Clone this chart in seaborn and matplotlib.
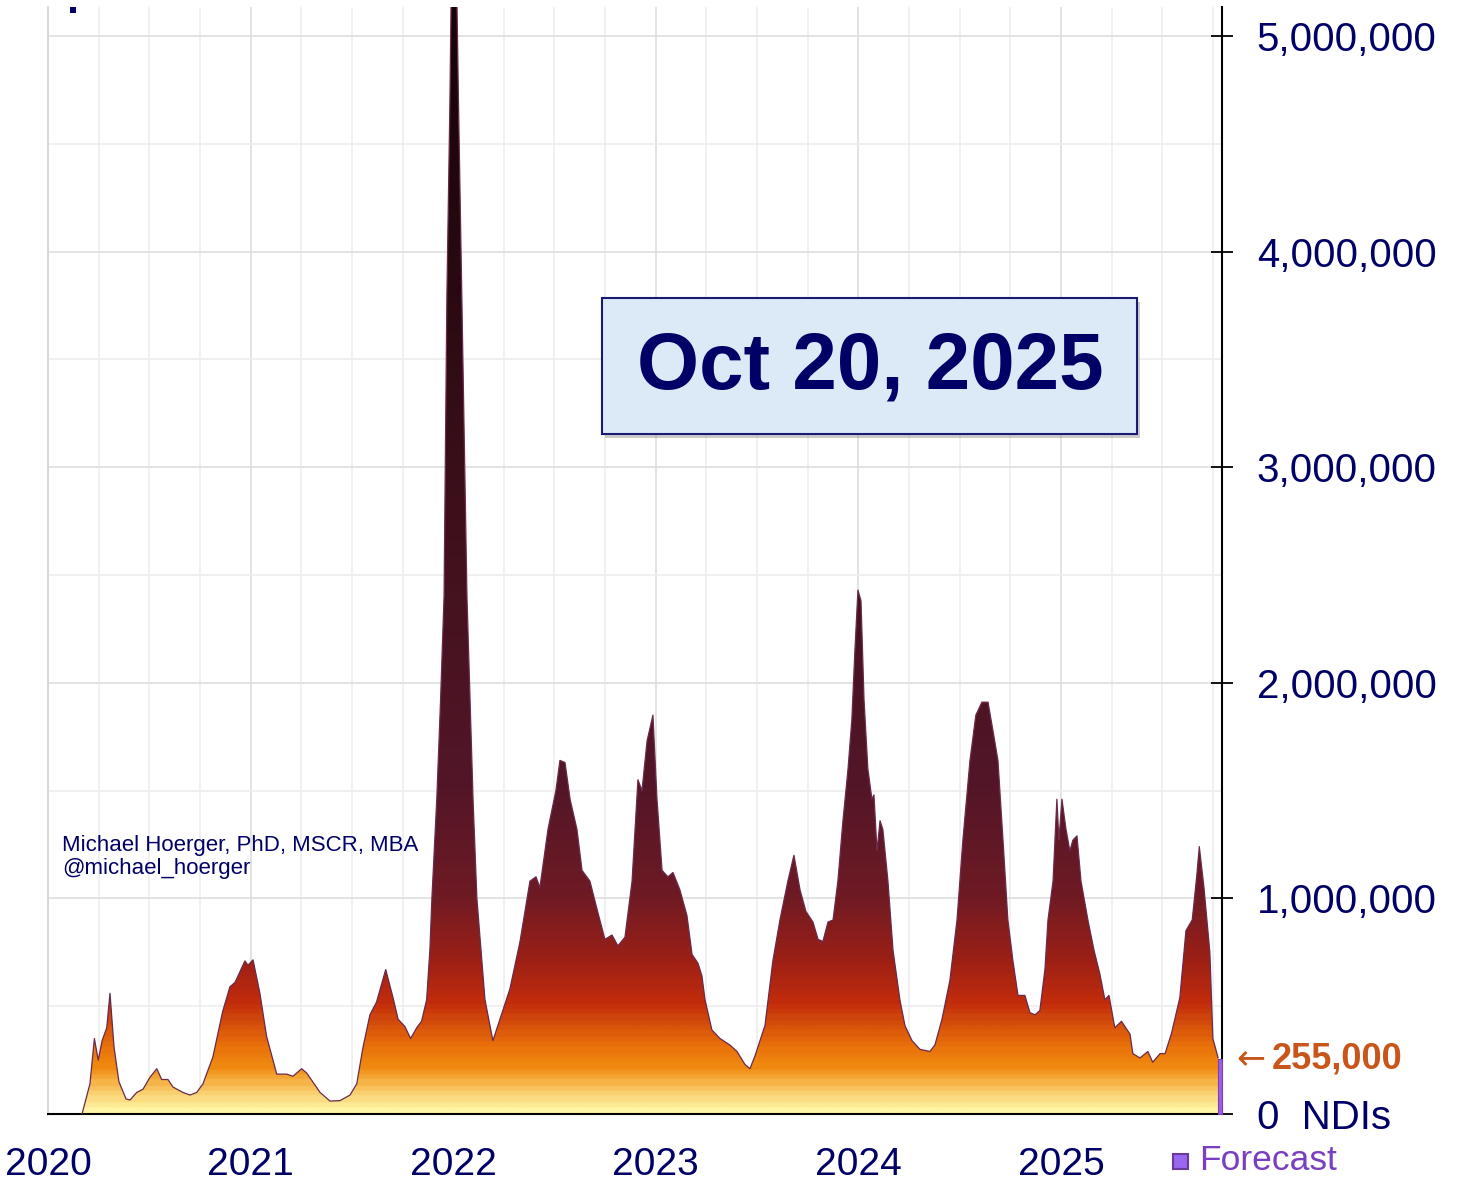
import numpy as np
import pandas as pd
import matplotlib
matplotlib.use("Agg")
import matplotlib.pyplot as plt
import seaborn as sns
from matplotlib.colors import LinearSegmentedColormap
from matplotlib.patches import Rectangle, Polygon
from matplotlib.ticker import MultipleLocator, FixedLocator

# Estimated daily new infections (NDIs)
years = [
    2020.168, 2020.207, 2020.229, 2020.248, 2020.267, 2020.290, 2020.306, 2020.326,
    2020.350, 2020.385, 2020.405, 2020.438, 2020.469, 2020.503, 2020.537, 2020.561,
    2020.592, 2020.617, 2020.666, 2020.701, 2020.734, 2020.765, 2020.814, 2020.862,
    2020.898, 2020.923, 2020.972, 2020.987, 2021.012, 2021.046, 2021.079, 2021.129,
    2021.178, 2021.209, 2021.252, 2021.277, 2021.343, 2021.392, 2021.441, 2021.491,
    2021.524, 2021.555, 2021.589, 2021.622, 2021.667, 2021.703, 2021.728, 2021.762,
    2021.790, 2021.820, 2021.844, 2021.869, 2021.885, 2021.895, 2021.919, 2021.937,
    2021.955, 2021.969, 2021.984, 2022.004, 2022.019, 2022.026, 2022.043, 2022.068,
    2022.098, 2022.117, 2022.157, 2022.196, 2022.280, 2022.330, 2022.379, 2022.409,
    2022.428, 2022.468, 2022.507, 2022.527, 2022.552, 2022.577, 2022.611, 2022.636,
    2022.675, 2022.710, 2022.749, 2022.784, 2022.813, 2022.848, 2022.883, 2022.912,
    2022.932, 2022.957, 2022.986, 2023.006, 2023.031, 2023.060, 2023.085, 2023.119,
    2023.154, 2023.179, 2023.208, 2023.228, 2023.243, 2023.277, 2023.317, 2023.366,
    2023.401, 2023.440, 2023.465, 2023.490, 2023.539, 2023.578, 2023.613, 2023.652,
    2023.682, 2023.712, 2023.741, 2023.776, 2023.801, 2023.825, 2023.850, 2023.875,
    2023.899, 2023.924, 2023.949, 2023.968, 2023.983, 2023.998, 2024.013, 2024.028,
    2024.047, 2024.067, 2024.077, 2024.092, 2024.107, 2024.121, 2024.146, 2024.171,
    2024.205, 2024.230, 2024.265, 2024.304, 2024.353, 2024.378, 2024.413, 2024.452,
    2024.487, 2024.516, 2024.551, 2024.580, 2024.610, 2024.640, 2024.664, 2024.689,
    2024.714, 2024.738, 2024.763, 2024.788, 2024.822, 2024.847, 2024.872, 2024.896,
    2024.921, 2024.936, 2024.961, 2024.980, 2024.990, 2025.005, 2025.025, 2025.044,
    2025.059, 2025.079, 2025.099, 2025.133, 2025.163, 2025.192, 2025.217, 2025.237,
    2025.266, 2025.299, 2025.341, 2025.355, 2025.390, 2025.429, 2025.453, 2025.489,
    2025.514, 2025.546, 2025.587, 2025.617, 2025.648, 2025.670, 2025.683, 2025.706,
    2025.735, 2025.750, 2025.776,
]
ndis_m = [
    0.00, 0.14, 0.35, 0.25, 0.34, 0.40, 0.56, 0.31,
    0.15, 0.07, 0.065, 0.10, 0.115, 0.17, 0.21, 0.16,
    0.16, 0.125, 0.10, 0.088, 0.10, 0.14, 0.265, 0.475,
    0.59, 0.61, 0.71, 0.69, 0.715, 0.56, 0.36, 0.185,
    0.185, 0.175, 0.21, 0.19, 0.10, 0.06, 0.062, 0.088,
    0.14, 0.31, 0.46, 0.52, 0.67, 0.54, 0.44, 0.405,
    0.35, 0.40, 0.43, 0.53, 0.76, 1.00, 1.46, 1.90,
    2.40, 3.80, 4.70, 6.30, 5.13, 4.70, 3.78, 2.40,
    1.46, 1.00, 0.53, 0.34, 0.58, 0.80, 1.08, 1.10,
    1.05, 1.32, 1.50, 1.64, 1.63, 1.46, 1.32, 1.13,
    1.08, 0.95, 0.81, 0.83, 0.78, 0.82, 1.08, 1.55,
    1.50, 1.73, 1.85, 1.46, 1.13, 1.10, 1.12, 1.04,
    0.92, 0.74, 0.70, 0.64, 0.53, 0.39, 0.35, 0.32,
    0.29, 0.23, 0.21, 0.27, 0.41, 0.71, 0.90, 1.08,
    1.20, 1.04, 0.94, 0.89, 0.81, 0.80, 0.89, 0.90,
    1.08, 1.36, 1.60, 1.83, 2.15, 2.43, 2.38, 1.92,
    1.60, 1.46, 1.48, 1.22, 1.36, 1.32, 1.08, 0.76,
    0.53, 0.41, 0.34, 0.30, 0.29, 0.32, 0.44, 0.62,
    0.90, 1.27, 1.64, 1.85, 1.91, 1.91, 1.78, 1.64,
    1.27, 0.90, 0.71, 0.55, 0.55, 0.47, 0.46, 0.48,
    0.67, 0.90, 1.08, 1.46, 1.27, 1.46, 1.32, 1.22,
    1.27, 1.29, 1.08, 0.90, 0.76, 0.65, 0.53, 0.55,
    0.40, 0.43, 0.37, 0.28, 0.26, 0.29, 0.24, 0.28,
    0.28, 0.375, 0.54, 0.85, 0.90, 1.10, 1.24, 1.05,
    0.75, 0.35, 0.26,
]
forecast_years = [2025.776, 2025.795]
forecast_value = 255000

year_ticks = [2020, 2021, 2022, 2023, 2024, 2025]
y_ticks = [0, 1000000, 2000000, 3000000, 4000000, 5000000]
y_labels = ["0  NDIs", "1,000,000", "2,000,000", "3,000,000", "4,000,000", "5,000,000"]
date_label = "Oct 20, 2025"
credit = "Michael Hoerger, PhD, MSCR, MBA\n@michael_hoerger"

df = pd.DataFrame({"year": years, "ndis": np.array(ndis_m) * 1e6})

NAVY = "#000066"
ORANGE = "#c8561a"
PURPLE = "#7a3fc0"

sns.set_style("white")
plt.rcParams["font.family"] = ["Liberation Sans", "DejaVu Sans"]

fig = plt.figure(figsize=(14.57, 11.81), dpi=100)
ax = fig.add_axes([48 / 1457, 1 - 1114 / 1181, (1222 - 48) / 1457, (1114 - 7) / 1181])

xmin, xmax = 2020, forecast_years[1]
ymax = 5.134e6

# gradient fill clipped to the area under the curve
stops = [(0.0, "#fff5a5"), (0.08, "#f9cf6e"), (0.2, "#f08a10"), (0.3, "#e8700a"),
         (0.5, "#c22c0c"), (0.7, "#9c2016"), (1.0, "#6e1a24"), (1.5, "#531628"),
         (2.4, "#45121f"), (3.8, "#2a0a12"), (5.0, "#160408"), (6.5, "#100306")]
cmap = LinearSegmentedColormap.from_list("ndi", [(v / 6.5, c) for v, c in stops])
grad = np.linspace(0, 1, 600).reshape(-1, 1)
im = ax.imshow(grad, cmap=cmap, origin="lower", aspect="auto",
               extent=[xmin, xmax, 0, 6.5e6], zorder=2)
verts = [(df.year.iloc[0], 0)] + list(zip(df.year, df.ndis)) + [(df.year.iloc[-1], 0)]
poly = Polygon(verts, closed=True, facecolor="none", edgecolor="none", transform=ax.transData)
ax.add_patch(poly)
im.set_clip_path(poly)

sns.lineplot(data=df, x="year", y="ndis", ax=ax, color="#6a2a4a", linewidth=0.9, zorder=3)

# forecast bar
ax.fill_between(forecast_years, 0, forecast_value, color="#9b5fe0", edgecolor=PURPLE,
                linewidth=0.8, zorder=3)

ax.set_xlim(xmin, xmax)
ax.set_ylim(0, ymax)
ax.set_xlabel("")
ax.set_ylabel("")

ax.xaxis.set_major_locator(FixedLocator(year_ticks))
ax.xaxis.set_minor_locator(MultipleLocator(0.25))
ax.set_xticks(year_ticks)
ax.set_xticklabels([str(y) for y in year_ticks], fontsize=28, color=NAVY)
ax.tick_params(axis="x", which="major", direction="inout", length=15, width=1.3,
               color="black", pad=16)
ax.tick_params(axis="x", which="minor", direction="in", length=7, width=1.3, color="black")

ax.yaxis.tick_right()
ax.set_yticks(y_ticks)
ax.set_yticklabels(y_labels, fontsize=29, color=NAVY)
ax.yaxis.set_minor_locator(MultipleLocator(500000))
ax.tick_params(axis="y", which="major", direction="inout", length=16, width=1.3,
               color="black", pad=17)
ax.tick_params(axis="y", which="minor", length=0)

ax.grid(which="major", color="#dedede", linewidth=1.2, zorder=0)
ax.grid(which="minor", color="#eeeeee", linewidth=1.2, zorder=0)
ax.set_axisbelow(True)

ax.spines["top"].set_visible(False)
ax.spines["left"].set_color("#d8d8d8")
ax.spines["left"].set_linewidth(1.5)
ax.spines["bottom"].set_color("black")
ax.spines["bottom"].set_linewidth(1.5)
ax.spines["right"].set_color("black")
ax.spines["right"].set_linewidth(1.5)

# latest estimate marker
ax.annotate("\u2190", xy=(xmax, forecast_value), xytext=(10, 1),
            textcoords="offset points", ha="left", va="center", fontsize=25,
            color=ORANGE, annotation_clip=False, family=["DejaVu Sans"])
ax.annotate("255,000", xy=(xmax, forecast_value), xytext=(36, 0),
            textcoords="offset points", ha="left", va="center", fontsize=26,
            fontweight="bold", color=ORANGE, annotation_clip=False)

# forecast legend
fig.patches.append(Rectangle((1173 / 1457, 1 - 1169 / 1181), 15 / 1457, 15 / 1181,
                             transform=fig.transFigure, facecolor="#9966ee",
                             edgecolor="#6a3aa0", linewidth=1.5))
fig.text(1199 / 1457, 1 - 1161 / 1181, "Forecast", fontsize=25.5, color=PURPLE,
         ha="left", va="center")

# date box with shadow
fig.patches.append(Rectangle((605 / 1457, 1 - 438 / 1181), 535 / 1457, 136 / 1181,
                             transform=fig.transFigure, facecolor="#999999", alpha=0.5,
                             edgecolor="none", zorder=5))
fig.patches.append(Rectangle((602 / 1457, 1 - 434 / 1181), 535 / 1457, 136 / 1181,
                             transform=fig.transFigure, facecolor="#dce9f7",
                             edgecolor="#1a1a70", linewidth=1.5, zorder=6))
fig.text(870 / 1457, 1 - 368 / 1181, date_label, fontsize=57.5, fontweight="bold",
         color=NAVY, ha="center", va="center", zorder=7)

# credit
ax.text((62 - 48) / (1222 - 48), (1114 - 857) / (1114 - 7),
        credit, transform=ax.transAxes, fontsize=16, color=NAVY, ha="left",
        va="center", linespacing=1.1, zorder=4)

# small marker at top left (cut-off header)
fig.patches.append(Rectangle((70 / 1457, 1 - 13 / 1181), 6 / 1457, 6 / 1181,
                             transform=fig.transFigure, facecolor=NAVY, edgecolor="none"))

fig.savefig("out.png", dpi=100)
